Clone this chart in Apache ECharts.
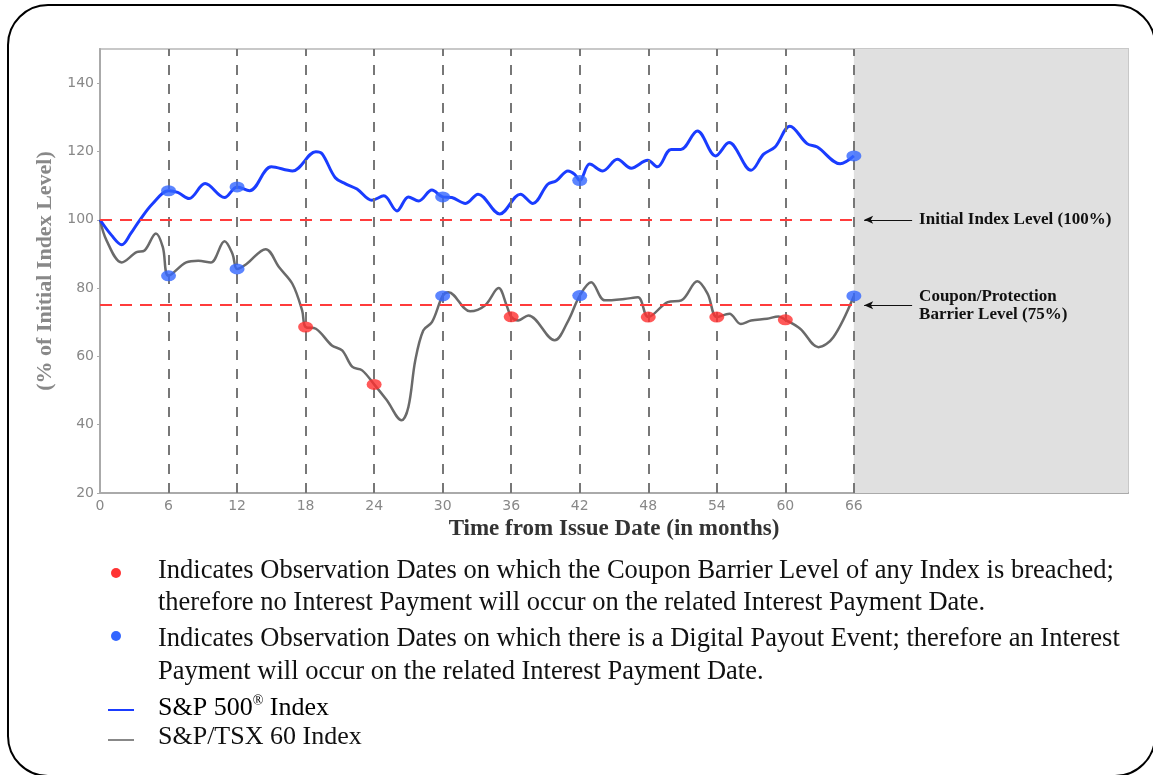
<!DOCTYPE html>
<html>
<head>
<meta charset="utf-8">
<script src="https://cdn.jsdelivr.net/npm/echarts@6/dist/echarts.min.js"></script>
<style>html,body{margin:0;padding:0;background:#fff;}#c{width:1153px;height:775px;}</style>
</head>
<body>
<div id="c"></div>
<script>
// ---- data ----
const obsDates = [6, 12, 18, 24, 30, 36, 42, 48, 54, 60, 66];
const spxSeries = [[0,100],[1.0,95.5],[1.9,92.7],[2.7,96],[3.5,100],[4.6,104.7],[6,108.5],[6.8,108],[7.8,106.2],[9.2,110.6],[10.9,106.5],[12,109.6],[13.1,108.5],[15,115.5],[16.85,114.3],[18.9,119.9],[19.45,119.3],[20.6,112.3],[21.5,110.5],[22.5,109],[23.8,105.7],[24.85,107],[26,102.6],[27,106.7],[27.9,105.5],[29.06,108.7],[30,106.7],[30.8,106.5],[32,104.8],[33.1,107.5],[35,101.7],[36.8,107.5],[37.9,104.8],[39.2,110.4],[39.95,111.4],[40.97,114.3],[41.56,113.3],[42,111.5],[42.87,116.3],[44,114.3],[45.3,117.7],[46.5,115.1],[47.95,117.4],[48.8,115.5],[50,120.6],[50.85,120.6],[52.3,126],[53.9,118.7],[55.07,122.6],[57,114.5],[58.1,119.2],[59.1,121.3],[60.4,127.4],[61.9,122.3],[62.8,121.3],[64.8,116.4],[66,118.7]];
const tsxSeries = [[0,100],[0.58,93.9],[1.9,87.5],[3.2,90.5],[3.9,91],[4.9,96],[5.5,92],[6,83.6],[7.55,87.5],[8.6,88],[9.7,87.5],[10.9,93.7],[11.6,90],[12,85.6],[12.8,87],[14.5,91.4],[15.7,86],[16.85,81.2],[17.7,73.4],[18,68.6],[18.9,68.1],[20.3,63.2],[21.2,61.75],[22.1,56.9],[22.95,55.9],[24,51.8],[25.1,47.2],[26.4,41.3],[27,45.2],[27.6,58.8],[28.3,67.6],[29.06,70],[30,77.7],[30.5,78.8],[32.4,73.2],[33.7,74.9],[34.9,80],[35.6,74.9],[36,71.6],[36.6,70.5],[37.5,72],[39.8,64.7],[41,70.5],[42,77.8],[43,81.7],[44.2,76.4],[45.9,76.8],[47.1,77.3],[48,71.5],[49.7,75.9],[50.9,76.4],[52.3,82],[53.2,78.3],[54,71.5],[55.1,72.5],[56.1,69.5],[57,70.5],[58.4,71],[59.4,71.7],[60,70.7],[61.3,68.1],[62.9,62.7],[64.2,65.6],[66,77.7]];
const spxAtObs = [108.5, 109.6, null, null, 106.7, null, 111.5, null, null, null, 118.7];
const tsxAtObs = [83.6, 85.6, 68.6, 51.8, 77.7, 71.6, 77.8, 71.5, 71.5, 70.7, 77.7];
const couponPaid = [true, true, false, false, true, false, true, false, false, false, true];
const initialLevel = 100;
const barrierLevel = 75;
const yTicks = [20, 40, 60, 80, 100, 120, 140];
const xTicks = obsDates.concat([0]);

// ---- build marker lists ----
const blueMarks = [], redMarks = [];
obsDates.forEach((d, i) => {
  const target = couponPaid[i] ? blueMarks : redMarks;
  if (spxAtObs[i] != null) target.push([d, spxAtObs[i]]);
  target.push([d, tsxAtObs[i]]);
});

const serif = '"Liberation Serif","Times New Roman",serif';
const chart = echarts.init(document.getElementById('c'), null, {renderer: 'canvas'});
const legendFont = '26.5px ' + serif;

const option = {
  animation: false,
  grid: {left: 100, right: 25, top: 49, bottom: 282, show: true, borderColor: '#c8c8c8', borderWidth: 2, backgroundColor: 'transparent'},
  xAxis: {
    type: 'value', min: 0, max: 90, interval: 6,
    name: 'Time from Issue Date (in months)', nameLocation: 'middle', nameGap: 23,
    nameTextStyle: {fontFamily: serif, fontSize: 23, fontWeight: 'bold', color: '#333'},
    axisLine: {show: true, lineStyle: {color: '#aaa', width: 2}},
    axisTick: {show: false},
    splitLine: {show: false},
    axisLabel: {margin: 6, color: '#888', fontFamily: '"DejaVu Sans",sans-serif', fontSize: 14,
      formatter: v => (xTicks.indexOf(v) >= 0 ? String(v) : '')}
  },
  yAxis: {
    type: 'value', min: 20, max: 150, interval: 20,
    name: '(% of Initial Index Level)', nameLocation: 'middle', nameGap: 40,
    nameTextStyle: {fontFamily: serif, fontSize: 22, fontWeight: 'bold', color: '#888'},
    axisLine: {show: true, lineStyle: {color: '#aaa', width: 2}},
    axisTick: {show: true, length: 3, lineStyle: {color: '#aaa'}},
    splitLine: {show: false},
    axisLabel: {margin: 6, color: '#888', fontFamily: '"DejaVu Sans",sans-serif', fontSize: 14, showMaxLabel: false,
      formatter: v => (yTicks.indexOf(v) >= 0 ? String(v) : '')}
  },
  series: [
    {
      type: 'line', name: 'ref', data: [], z: 1, silent: true,
      markArea: {silent: true, itemStyle: {color: '#e0e0e0'}, data: [[{xAxis: 66}, {xAxis: 90}]]},
      markLine: {
        silent: true, symbol: ['none', 'none'], label: {show: false},
        data: obsDates.map(d => ({xAxis: d, lineStyle: {color: '#777', width: 2, type: [10, 9]}}))
          .concat([
            [{coord: [0, initialLevel], lineStyle: {color: '#ff3b3b', width: 2, type: [12, 8]}}, {coord: [66, initialLevel]}],
            [{coord: [0, barrierLevel], lineStyle: {color: '#ff3b3b', width: 2, type: [12, 8]}}, {coord: [66, barrierLevel]}]
          ])
      }
    },
    {
      type: 'line', name: 'annot', data: [], z: 6, silent: true,
      markLine: {
        silent: true, symbol: ['arrow', 'none'], symbolSize: [6, 9],
        lineStyle: {color: '#111', width: 1, type: 'solid'},
        label: {show: true, position: 'end', distance: 7, color: '#111', fontFamily: serif, fontSize: 17, fontWeight: 'bold', lineHeight: 18, align: 'left'},
        data: [
          [{coord: [66.9, initialLevel], label: {formatter: 'Initial Index Level (100%)'}}, {coord: [71.1, initialLevel]}],
          [{coord: [66.9, barrierLevel], label: {formatter: 'Coupon/Protection\nBarrier Level (75%)'}}, {coord: [71.1, barrierLevel]}]
        ]
      }
    },
    {
      type: 'line', name: 'S&P/TSX 60 Index', data: tsxSeries, z: 3, smooth: 0.35, showSymbol: false,
      lineStyle: {color: '#6a6a6a', width: 2.5}
    },
    {
      type: 'line', name: 'S&P 500 Index', data: spxSeries, z: 3, smooth: 0.35, showSymbol: false,
      lineStyle: {color: '#1a3cff', width: 3}
    },
    {type: 'scatter', data: blueMarks, z: 5, symbol: 'circle', symbolSize: [15, 11], itemStyle: {color: '#3366ff'}},
    {type: 'scatter', data: redMarks, z: 5, symbol: 'circle', symbolSize: [15, 11], itemStyle: {color: '#ff3030'}}
  ],
  graphic: [
    {type: 'rect', silent: true, shape: {x: 8, y: 5, width: 1147, height: 771, r: 40}, style: {fill: 'none', stroke: '#000', lineWidth: 2}, z: 100},
    {type: 'circle', shape: {cx: 116, cy: 573, r: 5}, style: {fill: '#ff3333'}},
    {type: 'circle', shape: {cx: 116, cy: 636, r: 5}, style: {fill: '#3366ff'}},
    {type: 'line', shape: {x1: 108, y1: 710, x2: 134, y2: 710}, style: {stroke: '#1a3cff', lineWidth: 2}},
    {type: 'line', shape: {x1: 108, y1: 740, x2: 134, y2: 740}, style: {stroke: '#888', lineWidth: 2}},
    {type: 'text', left: 158, top: 558, style: {text: 'Indicates Observation Dates on which the Coupon Barrier Level of any Index is breached;', font: legendFont, fill: '#111'}},
    {type: 'text', left: 158, top: 590, style: {text: 'therefore no Interest Payment will occur on the related Interest Payment Date.', font: legendFont, fill: '#111'}},
    {type: 'text', left: 158, top: 626, style: {text: 'Indicates Observation Dates on which there is a Digital Payout Event; therefore an Interest', font: legendFont, fill: '#111'}},
    {type: 'text', left: 158, top: 659, style: {text: 'Payment will occur on the related Interest Payment Date.', font: legendFont, fill: '#111'}},
    {type: 'text', left: 158, top: 694, style: {
      text: '{a|S&P 500}{s|®}{a| Index}',
      rich: {a: {fontFamily: serif, fontSize: 26, color: '#111', verticalAlign: 'bottom'}, s: {fontFamily: serif, fontSize: 14, color: '#111', verticalAlign: 'top', padding: [0, 0, 13, 0]}}
    }},
    {type: 'text', left: 158, top: 724, style: {text: 'S&P/TSX 60 Index', font: '26px ' + serif, fill: '#111'}}
  ]
};
chart.setOption(option);
</script>
</body>
</html>
